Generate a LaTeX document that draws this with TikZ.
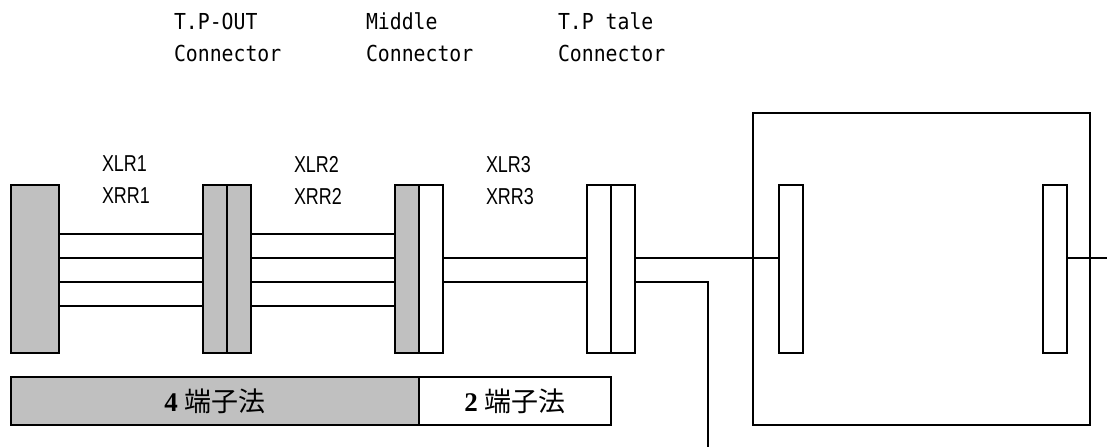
\documentclass[tikz,border=0pt]{standalone}
\usepackage{fontspec}
\usepackage{xcolor}
\setmainfont{Liberation Serif}
\newfontfamily\monolabel[FakeStretch=0.9]{DejaVu Sans Mono}
\newfontfamily\wirelabel[FakeStretch=0.78]{Liberation Sans}
\newfontfamily\cjklabel{Noto Sans CJK JP}
\definecolor{blockgray}{HTML}{C0C0C0}
\usepackage{tikz}

\begin{document}
\begin{tikzpicture}[x=1pt, y=-1pt, line width=1.3pt,
    every node/.style={inner sep=0pt, outer sep=0pt},
    conn/.style={draw, rectangle, anchor=north west, minimum width=24pt, minimum height=168pt},
    grayconn/.style={conn, fill=blockgray},
    barbox/.style={draw, rectangle, anchor=north west, minimum height=48pt},
    toplabel/.style={anchor=north west, align=left, font=\fontsize{22}{32}\monolabel},
    wirelbl/.style={anchor=north west, align=left, font=\fontsize{23}{32}\wirelabel}]
      \useasboundingbox (0,0) rectangle (1107,447);

      \node (TpOutLabel) [toplabel] at (174,13) {T.P-OUT\\Connector};
      \node (MiddleLabel) [toplabel] at (366,13) {Middle\\Connector};
      \node (TaleLabel) [toplabel] at (558,13) {T.P tale\\Connector};
      \node (WireOne) [wirelbl] at (102,156) {XLR1\\XRR1};
      \node (WireTwo) [wirelbl] at (294,156) {XLR2\\XRR2};
      \node (WireThree) [wirelbl] at (486,156) {XLR3\\XRR3};

      \coordinate (RowA) at (0,234);
      \coordinate (RowB) at (0,258);
      \coordinate (RowC) at (0,282);
      \coordinate (RowD) at (0,306);

      \node (Sample) [draw, rectangle, fill=blockgray, anchor=north west, minimum width=48pt, minimum height=168pt] at (11,185) {};
      \node (TpOutA) [grayconn] at (203,185) {};
      \node (TpOutB) [grayconn] at (227,185) {};
      \node (MiddleA) [grayconn] at (395,185) {};
      \node (MiddleB) [conn] at (419,185) {};
      \node (TaleA) [conn] at (587,185) {};
      \node (TaleB) [conn] at (611,185) {};

      \node (Meter) [draw, rectangle, anchor=north west, minimum width=337pt, minimum height=312pt] at (753,113) {};
      \node (MeterIn) [conn] at (779,185) {};
      \node (MeterOut) [conn] at (1043,185) {};

      \node (FourBar) [barbox, fill=blockgray, minimum width=408pt] at (11,377) {\fontsize{27}{27}\selectfont\textbf{4} \cjklabel 端子法};
      \node (TwoBar) [barbox, minimum width=192pt] at (419,377) {\fontsize{27}{27}\selectfont\textbf{2} \cjklabel 端子法};

      \coordinate (ExitRight) at (1107,258);
      \coordinate (ExitDown) at (708,447);

      \draw (Sample.east |- RowA) -- (TpOutA.west |- RowA);
      \draw (Sample.east |- RowB) -- (TpOutA.west |- RowB);
      \draw (Sample.east |- RowC) -- (TpOutA.west |- RowC);
      \draw (Sample.east |- RowD) -- (TpOutA.west |- RowD);
      \draw (TpOutB.east |- RowA) -- (MiddleA.west |- RowA);
      \draw (TpOutB.east |- RowB) -- (MiddleA.west |- RowB);
      \draw (TpOutB.east |- RowC) -- (MiddleA.west |- RowC);
      \draw (TpOutB.east |- RowD) -- (MiddleA.west |- RowD);
      \draw (MiddleB.east |- RowB) -- (TaleA.west |- RowB);
      \draw (MiddleB.east |- RowC) -- (TaleA.west |- RowC);
      \draw (TaleB.east |- RowB) -- (MeterIn.west |- RowB);
      \draw (TaleB.east |- RowC) -| (ExitDown);
      \draw (MeterOut.east |- RowB) -- (ExitRight);
    \end{tikzpicture}
\end{document}
